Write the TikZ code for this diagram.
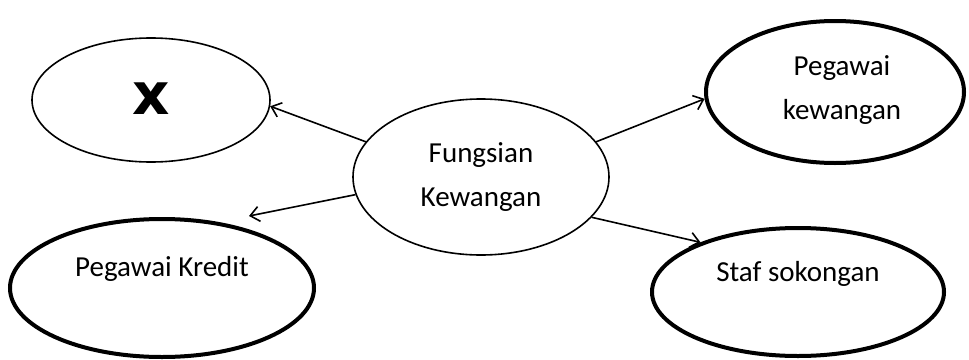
\documentclass[tikz,border=0pt]{standalone}
\usepackage{fontspec}
\setmainfont{Carlito}
\newfontfamily\heavyfont{DejaVu Sans}
\usetikzlibrary{shapes.geometric,arrows.meta}
\tikzset{
  txt/.style={font=\fontsize{29}{44}\selectfont, align=center},
  thinell/.style={ellipse, draw, line width=1.6pt, inner sep=0pt, align=center, txt},
  thickell/.style={ellipse, draw, line width=4pt, inner sep=0pt, align=center, txt},
  conn/.style={line width=1.6pt, -{Straight Barb[length=9pt,width=15pt,line width=1.6pt]}}
}
\begin{document}
\begin{tikzpicture}[x=1pt,y=-1pt]
\useasboundingbox (0,0) rectangle (969,359);
\node[thinell, minimum width=238pt, minimum height=124pt] (x) at (151,100) {};
\node[font=\heavyfont\bfseries\fontsize{58}{58}\selectfont] (xl) at (151,99) {x};
\node[thinell, minimum width=256pt, minimum height=156pt] (fk) at (481,177) {Fungsian\\Kewangan};
\node[thickell, minimum width=258pt, minimum height=142pt] (pk) at (835,92) {};
\node[txt] (pkl) at (842,90) {Pegawai\\kewangan};
\node[thickell, minimum width=304pt, minimum height=138pt] (kr) at (162,288) {};
\node[txt] (krl) at (162,269) {Pegawai Kredit};
\node[thickell, minimum width=292pt, minimum height=128pt] (sk) at (798,292) {};
\node[txt] (skl) at (798,274) {Staf sokongan};
\coordinate (krt) at (249,216);
\draw[conn] (fk.163) -- (x.-3);
\draw[conn] (fk.188) -- (krt);
\draw[conn] (fk.17) -- (pk.183);
\draw[conn] (fk.-20) -- (sk.153);
\end{tikzpicture}
\end{document}
